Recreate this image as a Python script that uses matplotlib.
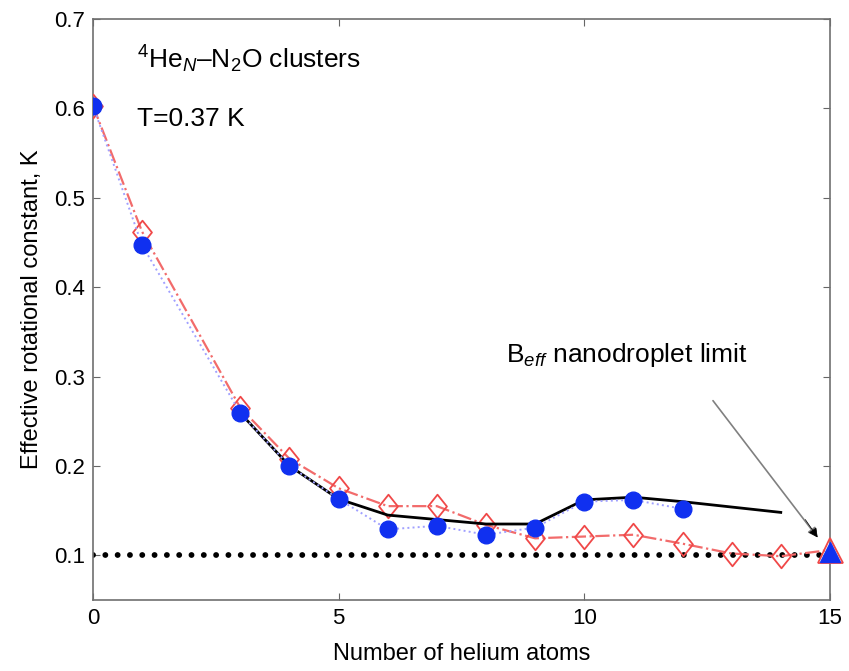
import numpy as np
import matplotlib
matplotlib.use("Agg")
import matplotlib.pyplot as plt
from matplotlib.path import Path

plt.rcParams['font.family'] = ['Liberation Sans', 'DejaVu Sans']
plt.rcParams['mathtext.fontset'] = 'custom'
plt.rcParams['mathtext.rm'] = 'Liberation Sans'
plt.rcParams['mathtext.it'] = 'Liberation Sans:italic'

# PIMC effective rotational constant (blue dots)
n_pimc = [0, 1, 3, 4, 5, 6, 7, 8, 9, 10, 11, 12]
b_pimc = [0.603, 0.447, 0.259, 0.200, 0.163, 0.129, 0.133, 0.123, 0.131, 0.160, 0.162, 0.152]

# second calculation (red open diamonds)
n_calc = [0, 1, 3, 4, 5, 6, 7, 8, 9, 10, 11, 12, 13, 14]
b_calc = [0.603, 0.462, 0.265, 0.208, 0.175, 0.155, 0.155, 0.134, 0.119, 0.121, 0.123, 0.113, 0.102, 0.099]

# experiment (black line)
n_exp = [3, 4, 5, 6, 7, 8, 9, 10, 11, 12, 13, 14]
b_exp = [0.259, 0.200, 0.163, 0.145, 0.140, 0.135, 0.135, 0.162, 0.165, 0.160, 0.154, 0.148]

# nanodroplet limit
b_limit = 0.1
n_drop = 15
b_drop = 0.106

diamond = Path([(0, 1), (0.8, 0), (0, -1), (-0.8, 0), (0, 1)],
               [Path.MOVETO, Path.LINETO, Path.LINETO, Path.LINETO, Path.CLOSEPOLY])

fig = plt.figure(figsize=(8.49, 6.71), dpi=100)
ax = fig.add_axes([0.1095, 0.1058, 0.868, 0.866])

ax.plot([0, 15], [b_limit, b_limit], color='black', lw=4.2, ls=(0, (0.01, 2.1)),
        dash_capstyle='round', zorder=2)

ax.plot(n_calc + [n_drop], b_calc + [b_drop], color='#f26b6b', lw=1.6, ls='-.',
        zorder=3)
ax.plot(n_calc, b_calc, ls='none', marker=diamond, ms=17, mfc='none',
        mec='#f04848', mew=1.3, zorder=4)
ax.plot([n_drop], [b_drop], ls='none', marker='^', ms=18, mfc='none',
        mec='#f04848', mew=1.3, zorder=4, clip_on=False)

ax.plot(n_exp, b_exp, color='black', lw=2.0, zorder=5)

ax.plot(n_pimc, b_pimc, color='#a0a0ff', lw=1.4, ls=':', zorder=5)
ax.plot(n_pimc, b_pimc, ls='none', marker='o', ms=12, color='#1030f0',
        mec='#1030f0', zorder=6)
ax.plot([n_drop], [b_drop - 0.002], ls='none', marker='^', ms=15, color='#1030f0',
        zorder=6, clip_on=False)

ax.text(0.9, 0.655, r'$^{4}$He$_{\mathit{N}}$–N$_{2}$O clusters', fontsize=19,
        va='center')
ax.text(0.9, 0.588, 'T=0.37 K', fontsize=19, va='center')
ax.text(8.4, 0.324, r'B$_{\mathit{eff}}$ nanodroplet limit', fontsize=19, va='center')
ax.annotate('', xy=(14.75, 0.12), xytext=(12.62, 0.273),
            arrowprops=dict(arrowstyle='-|>', color='#808080', lw=1.2,
                            mutation_scale=14, shrinkA=0, shrinkB=0))
ax.annotate('', xy=(14.75, 0.12), xytext=(14.5, 0.14),
            arrowprops=dict(arrowstyle='-|>', color='black', lw=0.5,
                            mutation_scale=14, shrinkA=0, shrinkB=0))

ax.set_xlim(0, 15)
ax.set_ylim(0.05, 0.7)
ax.set_xticks([0, 5, 10, 15])
ax.set_yticks([0.1, 0.2, 0.3, 0.4, 0.5, 0.6, 0.7])
ax.set_yticklabels(['0.1', '0.2', '0.3', '0.4', '0.5', '0.6', '0.7'])
ax.tick_params(direction='in', length=5, width=0.8, color='#666666',
               top=True, right=True, labelsize=16, pad=6)
for s in ax.spines.values():
    s.set_color('#707070')
    s.set_linewidth(1.2)

ax.set_xlabel('Number of helium atoms', fontsize=17, labelpad=10)
ax.set_ylabel('Effective rotational constant, K', fontsize=17, labelpad=8)

fig.savefig('out.png', dpi=100)
